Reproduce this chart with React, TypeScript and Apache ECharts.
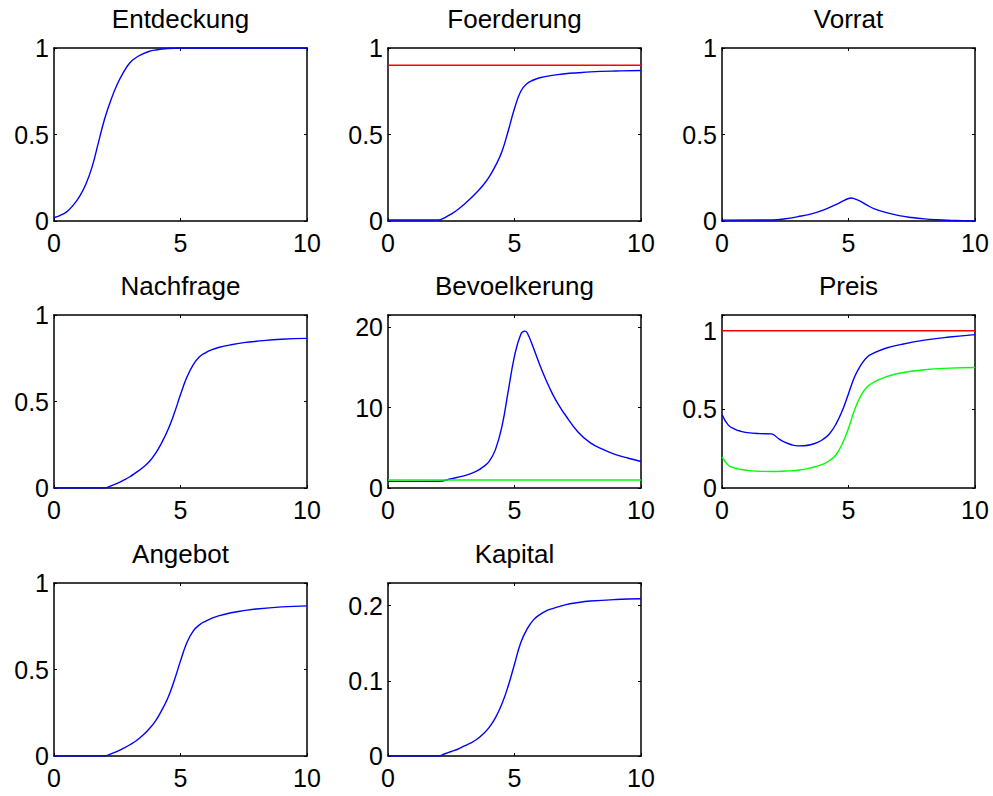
import React, { useEffect, useRef } from "react";
import * as echarts from "echarts";

// ---------- data ----------
const titles = ["Entdeckung", "Foerderung", "Vorrat", "Nachfrage", "Bevoelkerung", "Preis", "Angebot", "Kapital"];
const xTicks = [0, 5, 10];

const entdeckung = [[0, 0.02], [0.25, 0.033], [0.5, 0.053], [0.75, 0.09], [1, 0.14], [1.25, 0.21], [1.5, 0.31], [1.75, 0.45], [2, 0.59], [2.25, 0.70], [2.5, 0.79], [2.75, 0.86], [3, 0.915], [3.25, 0.945], [3.5, 0.965], [3.75, 0.98], [4, 0.988], [4.5, 0.997], [5, 1], [6, 1], [8, 1], [10, 1]];

const foerderung = [[0, 0.006], [1, 0.006], [2, 0.006], [2.25, 0.02], [2.5, 0.04], [2.75, 0.065], [3, 0.095], [3.25, 0.128], [3.5, 0.165], [3.75, 0.205], [4, 0.255], [4.25, 0.32], [4.5, 0.40], [4.75, 0.52], [5, 0.65], [5.25, 0.75], [5.5, 0.795], [5.75, 0.815], [6, 0.828], [6.5, 0.842], [7, 0.851], [7.5, 0.857], [8, 0.862], [9, 0.867], [10, 0.87]];
const foerderungRef = [[0, 0.9], [10, 0.9]];

const vorrat = [[0, 0.005], [2, 0.006], [2.5, 0.013], [3, 0.025], [3.5, 0.04], [4, 0.063], [4.5, 0.095], [4.75, 0.113], [5, 0.13], [5.1, 0.133], [5.25, 0.128], [5.5, 0.112], [5.75, 0.09], [6, 0.072], [6.5, 0.048], [7, 0.031], [7.5, 0.02], [8, 0.012], [8.5, 0.007], [9, 0.004], [9.5, 0.002], [10, 0.001]];

const nachfrage = [[0, 0], [2, 0], [2.25, 0.012], [2.5, 0.027], [2.75, 0.045], [3, 0.065], [3.25, 0.09], [3.5, 0.117], [3.75, 0.15], [4, 0.197], [4.25, 0.26], [4.5, 0.335], [4.75, 0.43], [5, 0.54], [5.25, 0.64], [5.5, 0.712], [5.75, 0.758], [6, 0.783], [6.25, 0.80], [6.5, 0.812], [7, 0.828], [7.5, 0.84], [8, 0.848], [9, 0.86], [10, 0.865]];

const bevoelkerung = [[0, 0.82], [1, 0.82], [2, 0.84], [2.5, 1.15], [3, 1.5], [3.25, 1.75], [3.5, 2.1], [3.75, 2.6], [4, 3.3], [4.25, 4.8], [4.5, 7.6], [4.75, 12.0], [5, 16.4], [5.25, 19.1], [5.4, 19.5], [5.5, 19.3], [5.75, 17.4], [6, 15.3], [6.25, 13.4], [6.5, 11.7], [6.75, 10.3], [7, 9.1], [7.5, 7.0], [8, 5.6], [8.5, 4.8], [9, 4.15], [9.5, 3.7], [10, 3.3]];
const bevoelkerungRef = [[0, 1.0], [10, 1.0]];

const preisBlue = [[0, 0.468], [0.25, 0.40], [0.5, 0.375], [0.75, 0.36], [1, 0.352], [1.5, 0.346], [1.95, 0.344], [2.25, 0.312], [2.5, 0.29], [2.75, 0.275], [3, 0.268], [3.25, 0.269], [3.5, 0.275], [3.75, 0.288], [4, 0.31], [4.25, 0.345], [4.5, 0.405], [4.75, 0.49], [5, 0.6], [5.25, 0.71], [5.5, 0.785], [5.75, 0.835], [6, 0.858], [6.5, 0.89], [7, 0.91], [8, 0.94], [9, 0.96], [10, 0.975]];
const preisGreen = [[0, 0.198], [0.25, 0.145], [0.5, 0.127], [0.75, 0.118], [1, 0.112], [1.5, 0.106], [2, 0.105], [2.5, 0.108], [3, 0.113], [3.5, 0.128], [4, 0.152], [4.25, 0.175], [4.5, 0.21], [4.75, 0.28], [5, 0.38], [5.25, 0.5], [5.5, 0.59], [5.75, 0.645], [6, 0.673], [6.5, 0.708], [7, 0.73], [8, 0.752], [9, 0.762], [10, 0.766]];
const preisRef = [[0, 1.0], [10, 1.0]];

const angebot = [[0, 0], [2, 0], [2.25, 0.012], [2.5, 0.027], [2.75, 0.045], [3, 0.065], [3.25, 0.088], [3.5, 0.118], [3.75, 0.155], [4, 0.2], [4.25, 0.262], [4.5, 0.335], [4.75, 0.435], [5, 0.55], [5.25, 0.655], [5.5, 0.722], [5.75, 0.758], [6, 0.78], [6.25, 0.797], [6.5, 0.81], [7, 0.828], [7.5, 0.84], [8, 0.85], [9, 0.862], [10, 0.868]];

const kapital = [[0, 0], [2, 0], [2.25, 0.003], [2.5, 0.006], [2.75, 0.009], [3, 0.013], [3.25, 0.017], [3.5, 0.022], [3.75, 0.029], [4, 0.038], [4.25, 0.051], [4.5, 0.069], [4.75, 0.093], [5, 0.122], [5.25, 0.151], [5.5, 0.169], [5.75, 0.181], [6, 0.188], [6.25, 0.193], [6.5, 0.196], [7, 0.201], [7.5, 0.204], [8, 0.206], [9, 0.208], [10, 0.209]];

const yMax = [1, 1, 1, 1, 21.5, 1.1, 1, 0.23];
const yStep = [0.5, 0.5, 0.5, 0.5, 10, 0.5, 0.5, 0.1];

const BLUE = "#0000ff";
const RED = "#ff0000";
const GREEN = "#00ff00";

const panelSeries: { data: number[][]; color: string }[][] = [
  [{ data: entdeckung, color: BLUE }],
  [{ data: foerderung, color: BLUE }, { data: foerderungRef, color: RED }],
  [{ data: vorrat, color: BLUE }],
  [{ data: nachfrage, color: BLUE }],
  [{ data: bevoelkerung, color: BLUE }, { data: bevoelkerungRef, color: GREEN }],
  [{ data: preisBlue, color: BLUE }, { data: preisGreen, color: GREEN }, { data: preisRef, color: RED }],
  [{ data: angebot, color: BLUE }],
  [{ data: kapital, color: BLUE }],
];

// ---------- layout ----------
const colLeft = [54, 388, 722];
const rowTop = [48, 315, 583];
const plotW = 253;
const plotH = 173;
const FONT = "Liberation Sans, Arial, Helvetica, sans-serif";

function fmt(step: number) {
  return (v: number) => {
    const r = v / step;
    if (Math.abs(r - Math.round(r)) > 1e-6) return "";
    return String(parseFloat(v.toFixed(4)));
  };
}

export default function App() {
  const ref = useRef<HTMLDivElement>(null);
  useEffect(() => {
    if (!ref.current) return;
    const chart = echarts.init(ref.current, undefined, { renderer: "svg" });
    const grid: any[] = [];
    const xAxis: any[] = [];
    const yAxis: any[] = [];
    const series: any[] = [];
    const title: any[] = [];
    const axisLine = { show: true, onZero: false, lineStyle: { color: "#000", width: 1.5 } };
    const tick = { show: true, inside: true, length: 3, lineStyle: { color: "#000", width: 1 } };
    const labelStyle = { color: "#000", fontSize: 25, fontFamily: FONT };

    titles.forEach((t, i) => {
      const r = Math.floor(i / 3);
      const c = i % 3;
      const left = colLeft[c];
      const top = rowTop[r];
      grid.push({ left, top, width: plotW, height: plotH, containLabel: false });
      title.push({
        text: t,
        left: left + plotW / 2,
        top: top - 42,
        textAlign: "center",
        padding: 0,
        textStyle: { fontSize: 26, fontWeight: "normal", color: "#000", fontFamily: FONT },
      });
      xAxis.push({
        type: "value", gridIndex: i, position: "bottom", min: xTicks[0], max: xTicks[xTicks.length - 1], interval: xTicks[1] - xTicks[0],
        axisLine, axisTick: tick, splitLine: { show: false },
        axisLabel: { ...labelStyle, margin: 9, formatter: fmt(5) },
      });
      xAxis.push({
        type: "value", gridIndex: i, position: "top", min: 0, max: 10, interval: 5,
        axisLine, axisTick: tick, splitLine: { show: false }, axisLabel: { show: false },
      });
      yAxis.push({
        type: "value", gridIndex: i, position: "left", min: 0, max: yMax[i], interval: yStep[i],
        axisLine, axisTick: tick, splitLine: { show: false },
        axisLabel: { ...labelStyle, margin: 5, formatter: fmt(yStep[i]) },
      });
      yAxis.push({
        type: "value", gridIndex: i, position: "right", min: 0, max: yMax[i], interval: yStep[i],
        axisLine, axisTick: tick, splitLine: { show: false }, axisLabel: { show: false },
      });
      panelSeries[i].forEach((s) => {
        series.push({
          type: "line",
          xAxisIndex: 2 * i,
          yAxisIndex: 2 * i,
          data: s.data,
          showSymbol: false,
          smooth: 0.45,
          lineStyle: { color: s.color, width: 1.4 },
          itemStyle: { color: s.color },
          z: 1,
        });
      });
    });

    chart.setOption({
      animation: false,
      backgroundColor: "#fff",
      title,
      grid,
      xAxis,
      yAxis,
      series,
    });
    return () => chart.dispose();
  }, []);
  return (
    <div
      ref={ref}
      style={{ position: "fixed", left: 0, top: 0, width: 993, height: 796, background: "#fff" }}
    />
  );
}
